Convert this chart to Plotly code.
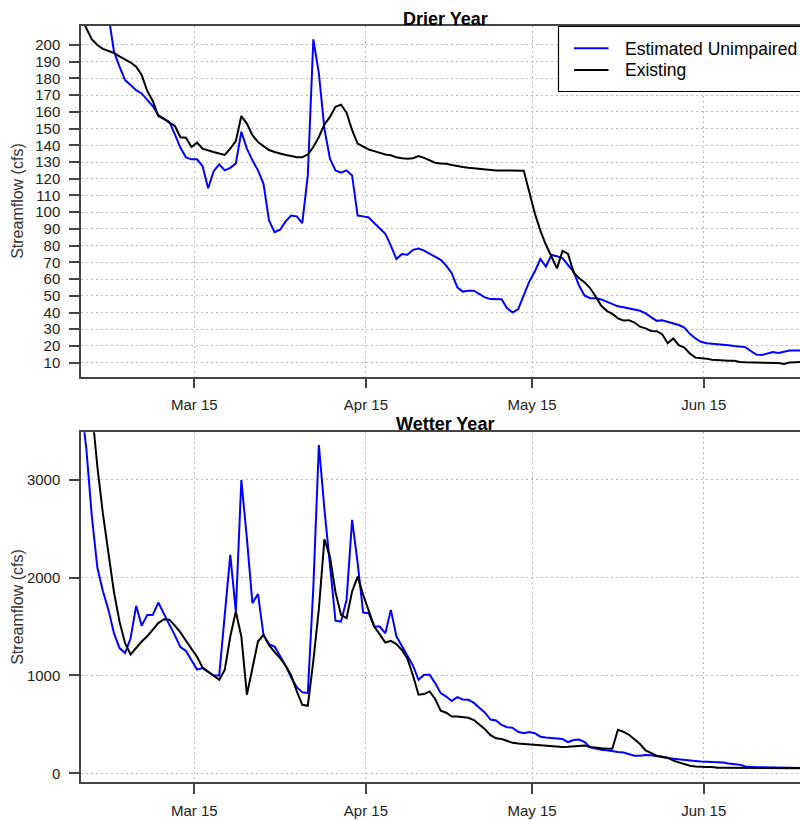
import pandas as pd
import plotly.graph_objects as go

# ---------------- data (daily values, cfs) ----------------
SERIES_NAMES = ["Estimated Unimpaired", "Existing"]
SERIES_COLORS = ["#0000FF", "#000000"]
PANEL_TITLES = ["Drier Year", "Wetter Year"]
Y_LABEL = "Streamflow (cfs)"

X_TICKS = ["2023-03-15", "2023-04-15", "2023-05-15", "2023-06-15"]
X_TICK_LABELS = ["Mar 15", "Apr 15", "May 15", "Jun 15"]
X_RANGE = ["2023-02-22 12:58", "2023-07-02 09:22"]

DRIER_Y_TICKS = list(range(10, 201, 10))
DRIER_Y_RANGE = [1.6, 211.35]
WETTER_Y_TICKS = [0, 1000, 2000, 3000]
WETTER_Y_RANGE = [-88, 3484]

DRIER_UNIMPAIRED_START = "2023-02-27"
DRIER_UNIMPAIRED = [
    218, 196, 187, 179, 176, 173, 171, 167.5, 163.5, 158,
    155.8, 154, 146.5, 138.5, 132.8, 131.6, 131.6, 127.5, 114.3, 124.5,
    128.6, 125, 126.5, 129.2, 148.1, 138, 131, 125, 117, 95,
    88, 89.5, 94.5, 98, 97.5, 93.5, 122, 203.4, 183, 150,
    132, 125, 123.6, 125, 122, 98, 97.5, 96.8, 93.5, 90.5,
    87, 80, 72, 75, 74.5, 77.5, 78.3, 77, 75.2, 73.5,
    71.5, 68, 63.5, 55, 52.5, 53, 53, 51, 49, 48,
    48, 47.9, 42.5, 40, 42, 50, 58.5, 64.5, 72, 67.5,
    74.4, 73.7, 72.5, 68.4, 64.5, 56, 50, 48.5, 48.5, 47.8,
    46.5, 45, 43.7, 43.2, 42.5, 41.5, 41, 39.5, 37.5, 35,
    35.3, 34.5, 33.5, 32.5, 31, 27.2, 24.5, 22.5, 21.6, 21.4,
    21.2, 21, 20.4, 19.9, 19.7, 19.3, 17, 14.8, 14.6, 15.5,
    16.4, 15.8, 16.5, 17.2, 17.2, 17.2,
]

DRIER_EXISTING_START = "2023-02-22"
DRIER_EXISTING = [
    218, 210, 203.3, 200, 197.7, 196.4, 195.2, 193.2, 191.4, 189.5,
    187, 182, 172.5, 166.5, 157.5, 155.8, 153.5, 151.5, 144.8, 144.5,
    139, 141.6, 138, 136.8, 136, 135.1, 134.2, 138, 142.5, 157.5,
    153, 146, 142, 139.5, 137.2, 136, 135, 134.2, 133.6, 132.8,
    132.8, 134.5, 139, 145, 152.5, 157, 163, 164.3, 159.5, 149,
    141, 139, 137.5, 136.5, 135.3, 134.5, 134, 132.8, 132.2, 131.9,
    132.3, 133.5, 132.5, 130.8, 129.6, 129.1, 128.9, 128.2, 127.5, 127,
    126.6, 126.2, 126, 125.7, 125.3, 125, 125, 125, 125, 125,
    124.8, 112, 99.3, 89, 80.5, 73.5, 66.4, 76.8, 75, 64,
    60.5, 58, 54.5, 49.5, 44, 41, 39.2, 36.5, 35.2, 35.4,
    34, 31.5, 30.5, 29, 28.8, 27, 21.6, 24.5, 20.5, 19,
    15.5, 13, 12.8, 12.4, 11.8, 11.5, 11.3, 11.2, 11.1, 10.4,
    10.2, 10.2, 10.2, 10.2, 10.2, 10.2, 9.8, 9.2, 10.1, 10.3,
    10.4,
]

WETTER_UNIMPAIRED_START = "2023-02-22"
WETTER_UNIMPAIRED = [
    3800, 3320, 2622, 2100, 1860, 1670, 1430, 1280, 1229, 1380,
    1711, 1507, 1619, 1619, 1745, 1640, 1520, 1410, 1290, 1250,
    1160, 1060, 1075, 1035, 1000, 1000, 1650, 2232, 1654, 2997,
    2400, 1738, 1833, 1415, 1320, 1296, 1200, 1100, 980, 880,
    830, 820, 1900, 3354, 2700, 2100, 1560, 1551, 1772, 2589,
    2150, 1643, 1636, 1500, 1500, 1430, 1670, 1400, 1300, 1190,
    1100, 956, 1007, 1007, 922, 820, 785, 740, 779, 755,
    752, 720, 670, 620, 550, 541, 495, 472, 465, 425,
    410, 422, 410, 375, 367, 361, 356, 351, 320, 340,
    345, 320, 265, 250, 242, 236, 226, 218, 214, 200,
    181, 181, 188, 185, 173, 165, 156, 150, 146, 140,
    133, 127, 122, 120, 118, 116, 110, 100, 95, 89,
    70, 64, 62, 62, 62, 58, 55, 55, 55, 55,
    55,
]

WETTER_EXISTING_START = "2023-02-24"
WETTER_EXISTING = [
    3720, 3130, 2650, 2249, 1850, 1550, 1330, 1215, 1280, 1347,
    1400, 1465, 1535, 1575, 1570, 1510, 1440, 1355, 1270, 1190,
    1080, 1040, 1000, 956, 1058, 1398, 1653, 1398, 803, 1092,
    1347, 1415, 1310, 1240, 1178, 1100, 1000, 840, 700, 691,
    1150, 1680, 2392, 2214, 1850, 1619, 1586, 1857, 2010, 1823,
    1650, 1500, 1420, 1337, 1354, 1320, 1260, 1170, 1000, 803,
    810, 837, 760, 640, 620, 580, 582, 575, 568, 545,
    500, 450, 390, 358, 351, 335, 312, 305, 300, 296,
    292, 288, 284, 278, 272, 270, 272, 274, 276, 285,
    270, 260, 256, 253, 252, 446, 425, 395, 345, 300,
    235, 210, 181, 170, 160, 130, 110, 90, 78, 70,
    66, 66, 66, 58, 58, 58, 58, 52, 52, 52,
    52, 52, 52, 52, 52, 52, 52, 52, 52,
]


def daily_dates(start, values):
    return pd.date_range(start, periods=len(values), freq="D") + pd.Timedelta(hours=12)


FONT = "Arial, 'Liberation Sans', Helvetica, sans-serif"
AXIS_COLOR = "#444444"
GRID_COLOR = "#BDBDBD"
TEXT_COLOR = "#222222"

fig = go.Figure()

panels = [
    ("x", "y", [(DRIER_UNIMPAIRED_START, DRIER_UNIMPAIRED), (DRIER_EXISTING_START, DRIER_EXISTING)]),
    ("x2", "y2", [(WETTER_UNIMPAIRED_START, WETTER_UNIMPAIRED), (WETTER_EXISTING_START, WETTER_EXISTING)]),
]
for xa, ya, series in panels:
    for (start, vals), name, color in zip(series, SERIES_NAMES, SERIES_COLORS):
        fig.add_trace(go.Scatter(
            x=daily_dates(start, vals), y=vals, mode="lines", name=name,
            line=dict(color=color, width=2), xaxis=xa, yaxis=ya,
            showlegend=False, hoverinfo="skip",
        ))

W, H = 800, 820
ML, MR, MT, MB = 81, 0, 26, 38
plot_h = H - MT - MB
plot_w = W - ML - MR


def py(px):  # pixel row -> paper y
    return (H - MB - px) / plot_h


def px_x(px):  # pixel column -> paper x
    return (px - ML) / plot_w


common_x = dict(
    type="date", range=X_RANGE, tickvals=X_TICKS, ticktext=X_TICK_LABELS,
    ticks="outside", ticklen=10, tickwidth=1.5, tickcolor=AXIS_COLOR,
    showline=True, linecolor=AXIS_COLOR, linewidth=1.5, mirror=True,
    showgrid=True, gridcolor=GRID_COLOR, griddash="2px,3px", gridwidth=1,
    tickfont=dict(family=FONT, size=15, color=TEXT_COLOR),
    ticklabelstandoff=4, zeroline=False, fixedrange=True,
)
common_y = dict(
    ticks="outside", ticklen=10, tickwidth=1.5, tickcolor=AXIS_COLOR,
    showline=True, linecolor=AXIS_COLOR, linewidth=1.5, mirror=False,
    showgrid=True, gridcolor=GRID_COLOR, griddash="2px,3px", gridwidth=1,
    tickfont=dict(family=FONT, size=15, color=TEXT_COLOR),
    ticklabelstandoff=6, zeroline=False, fixedrange=True,
)

top_bottom = py(376.7)
bot_top = py(432.3)

fig.update_layout(
    width=W, height=H,
    margin=dict(l=ML, r=MR, t=MT, b=MB, autoexpand=False),
    paper_bgcolor="white", plot_bgcolor="white",
    showlegend=False,
    xaxis=dict(common_x, domain=[0, 1], anchor="y"),
    yaxis=dict(common_y, domain=[top_bottom, 1], range=DRIER_Y_RANGE,
               tickvals=DRIER_Y_TICKS, anchor="x"),
    xaxis2=dict(common_x, domain=[0, 1], anchor="y2"),
    yaxis2=dict(common_y, domain=[0, bot_top], range=WETTER_Y_RANGE,
                tickvals=WETTER_Y_TICKS, anchor="x2"),
)

annotations = []
# panel titles
for title, ypx in zip(PANEL_TITLES, [18.5, 423.5]):
    annotations.append(dict(
        text="<b>%s</b>" % title, xref="paper", yref="paper",
        x=px_x(445.5), y=py(ypx), xanchor="center", yanchor="middle",
        showarrow=False, font=dict(family=FONT, size=18, color="black"),
    ))
# y-axis labels
for ymid in [(26 + 376.7) / 2, (432.3 + 782.3) / 2]:
    annotations.append(dict(
        text=Y_LABEL, xref="paper", yref="paper",
        x=px_x(17.5), y=py(ymid), xanchor="center", yanchor="middle",
        textangle=-90, showarrow=False,
        font=dict(family=FONT, size=16, color="#333333"),
    ))

# manual legend (box partially clipped at right like the original)
shapes = [dict(
    type="rect", xref="paper", yref="paper",
    x0=px_x(558.5), x1=px_x(830), y0=py(91.5), y1=py(26.5),
    line=dict(color="black", width=1.2), fillcolor="white", layer="above",
)]
for name, color, ypx in zip(SERIES_NAMES, SERIES_COLORS, [48.3, 70.0]):
    shapes.append(dict(
        type="line", xref="paper", yref="paper",
        x0=px_x(574), x1=px_x(608.5), y0=py(ypx), y1=py(ypx),
        line=dict(color=color, width=2), layer="above",
    ))
    annotations.append(dict(
        text=name, xref="paper", yref="paper",
        x=px_x(623), y=py(ypx + 0.5), xanchor="left", yanchor="middle",
        showarrow=False, font=dict(family=FONT, size=17.5, color="black"),
    ))

fig.update_layout(annotations=annotations, shapes=shapes)

fig.write_html(
    "out.html",
    config={"displayModeBar": False},
    post_script="document.body.style.margin='0px';document.body.style.overflow='hidden';",
)
